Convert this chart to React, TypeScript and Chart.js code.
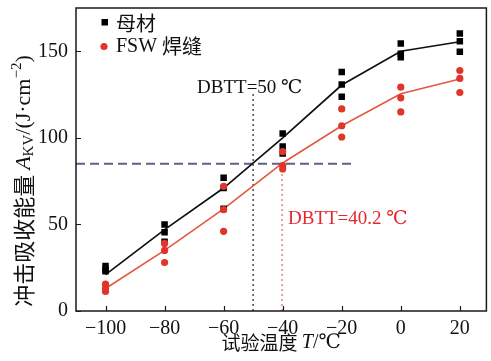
import React, { useEffect, useRef } from 'react';
import { Chart, registerables } from 'chart.js';

Chart.register(...registerables);

// ---- data ----
const temps = [-100, -80, -60, -40, -20, 0, 20];
const seriesNames = ['母材', 'FSW 焊缝'];
const baseFit = [21, 47, 71, 100, 130.5, 150, 155.5];
const fswFit = [13, 35, 59, 85.5, 107, 125.5, 134];
const baseSamples = [
  [26, 24, 23],
  [50, 45.5, 40],
  [77, 71, 59],
  [102.5, 95, 91],
  [138, 130.8, 123.7],
  [154.5, 148.6, 146.6],
  [160.3, 155.8, 149.7],
];
const fswSamples = [
  [15.5, 13, 11.3],
  [39, 35, 28],
  [72, 58.5, 46],
  [92, 84, 82],
  [116.7, 107, 100.5],
  [129.3, 123.1, 115],
  [138.9, 134.3, 126.2],
];
const xTicks = [-100, -80, -60, -40, -20, 0, 20];
const yTicks = [0, 50, 100, 150];
const xRange = [-110, 29];
const yRange = [0, 175];
const criterionEnergy = 85;
const criterionEnd = -16;
const dbttBase = -50;
const dbttBaseTop = 126;
const dbttFsw = -40.2;
const dbttBaseLabel = 'DBTT=50 ℃';
const dbttFswLabel = 'DBTT=40.2 ℃';
const dbttBaseLabelPos = [-69, 126];
const dbttFswLabelPos = [-38.2, 50.3];

const SERIF = "'Liberation Serif', 'DejaVu Serif', 'Noto Sans CJK SC', serif";
const CJK = "'Noto Sans CJK SC', 'Liberation Serif', sans-serif";

type Run = { t: string; f: string; dy?: number };

function runsWidth(ctx: CanvasRenderingContext2D, runs: Run[]) {
  let w = 0;
  for (const r of runs) {
    ctx.font = r.f;
    w += ctx.measureText(r.t).width;
  }
  return w;
}
function drawRuns(ctx: CanvasRenderingContext2D, runs: Run[], x: number, y: number) {
  let cx = x;
  for (const r of runs) {
    ctx.font = r.f;
    ctx.fillText(r.t, cx, y + (r.dy || 0));
    cx += ctx.measureText(r.t).width;
  }
}

const decor = {
  id: 'decor',
  afterDraw(chart: any) {
    const { ctx, chartArea: a, scales } = chart;
    const xs = scales.x;
    const ys = scales.y;
    ctx.save();
    // frame
    ctx.strokeStyle = '#1a1a1a';
    ctx.lineWidth = 1.5;
    ctx.strokeRect(a.left, a.top, a.right - a.left, a.bottom - a.top);
    // inward ticks
    ctx.lineWidth = 1.2;
    ctx.beginPath();
    xTicks.forEach((v) => {
      const px = Math.round(xs.getPixelForValue(v)) + 0.5;
      ctx.moveTo(px, a.bottom);
      ctx.lineTo(px, a.bottom - 5);
    });
    yTicks.forEach((v) => {
      const py = Math.round(ys.getPixelForValue(v)) + 0.5;
      ctx.moveTo(a.left, py);
      ctx.lineTo(a.left + 5, py);
    });
    ctx.stroke();

    // legend
    ctx.textBaseline = 'middle';
    ctx.textAlign = 'left';
    ctx.fillStyle = '#000';
    ctx.fillRect(101.5, 19, 6.5, 6.5);
    ctx.fillStyle = '#e0352b';
    ctx.beginPath();
    ctx.arc(104, 46.5, 3.6, 0, Math.PI * 2);
    ctx.fill();
    ctx.fillStyle = '#111';
    drawRuns(ctx, [{ t: seriesNames[0], f: `20px ${CJK}` }], 116, 23);
    drawRuns(ctx, [
      { t: 'FSW ', f: `20px ${SERIF}` },
      { t: '焊缝', f: `20px ${CJK}` },
    ], 116, 46.5);

    // DBTT labels
    ctx.textBaseline = 'alphabetic';
    ctx.fillStyle = '#111';
    ctx.font = `19px ${SERIF}`;
    ctx.fillText(dbttBaseLabel, xs.getPixelForValue(dbttBaseLabelPos[0]), ys.getPixelForValue(dbttBaseLabelPos[1]));
    ctx.fillStyle = '#e8262e';
    ctx.fillText(dbttFswLabel, xs.getPixelForValue(dbttFswLabelPos[0]), ys.getPixelForValue(dbttFswLabelPos[1]));

    // x title
    ctx.fillStyle = '#111';
    ctx.textBaseline = 'middle';
    const xRuns: Run[] = [
      { t: '试验温度 ', f: `19px ${CJK}` },
      { t: 'T', f: `italic 20px ${SERIF}` },
      { t: '/℃', f: `20px ${SERIF}` },
    ];
    const xw = runsWidth(ctx, xRuns);
    drawRuns(ctx, xRuns, (a.left + a.right) / 2 - xw / 2, 342.5);

    // y title
    const yRuns: Run[] = [
      { t: '冲击吸收能量 ', f: `22px ${CJK}` },
      { t: 'A', f: `italic 22px ${SERIF}` },
      { t: 'KV', f: `15px ${SERIF}`, dy: 5 },
      { t: '/(J·cm', f: `22px ${SERIF}` },
      { t: '−2', f: `15px ${SERIF}`, dy: -7 },
      { t: ')', f: `22px ${SERIF}` },
    ];
    const yw = runsWidth(ctx, yRuns);
    ctx.translate(24, 181);
    ctx.rotate(-Math.PI / 2);
    drawRuns(ctx, yRuns, -yw / 2, 0);
    ctx.restore();
  },
};

export default function App() {
  const ref = useRef<HTMLCanvasElement | null>(null);
  useEffect(() => {
    document.body.style.margin = '0';
    const canvas = ref.current;
    if (!canvas) return;
    const pts = (vals: number[]) => temps.map((t, i) => ({ x: t, y: vals[i] }));
    const samplePts = (s: number[][]) => {
      const out: { x: number; y: number }[] = [];
      s.forEach((arr, i) => arr.forEach((v) => out.push({ x: temps[i], y: v })));
      return out;
    };
    const chart = new Chart(canvas, {
      type: 'scatter',
      data: {
        datasets: [
          {
            label: seriesNames[1],
            data: samplePts(fswSamples),
            pointStyle: 'circle',
            pointRadius: 3.6,
            backgroundColor: '#e0352b',
            borderColor: '#e0352b',
            borderWidth: 0,
            order: 0,
          },
          {
            label: seriesNames[0],
            data: samplePts(baseSamples),
            pointStyle: 'rect',
            pointRadius: 4.6,
            backgroundColor: '#000',
            borderColor: '#000',
            borderWidth: 0,
            order: 1,
          },
          {
            label: 'base fit',
            data: pts(baseFit),
            showLine: true,
            pointRadius: 0,
            borderColor: '#111',
            borderWidth: 1.7,
            order: 2,
          },
          {
            label: 'fsw fit',
            data: pts(fswFit),
            showLine: true,
            pointRadius: 0,
            borderColor: '#e5573f',
            borderWidth: 1.6,
            order: 3,
          },
          {
            label: 'criterion',
            data: [
              { x: xRange[0], y: criterionEnergy },
              { x: criterionEnd, y: criterionEnergy },
            ],
            showLine: true,
            pointRadius: 0,
            borderColor: '#5b5f93',
            borderWidth: 2,
            borderDash: [9, 5],
            order: 4,
          },
          {
            label: 'dbtt base',
            data: [
              { x: dbttBase, y: 0 },
              { x: dbttBase, y: dbttBaseTop },
            ],
            showLine: true,
            pointRadius: 0,
            borderColor: '#555',
            borderWidth: 1.6,
            borderDash: [2, 3],
            order: 5,
          },
          {
            label: 'dbtt fsw',
            data: [
              { x: dbttFsw, y: 0 },
              { x: dbttFsw, y: criterionEnergy },
            ],
            showLine: true,
            pointRadius: 0,
            borderColor: '#e0917a',
            borderWidth: 1.6,
            borderDash: [2, 3],
            order: 6,
          },
        ],
      },
      options: {
        animation: false,
        responsive: false,
        layout: { padding: { top: 8, right: 2, left: 0, bottom: 0 } },
        plugins: { legend: { display: false }, tooltip: { enabled: false } },
        scales: {
          x: {
            type: 'linear',
            min: xRange[0],
            max: xRange[1],
            grid: { display: false, drawTicks: false },
            border: { display: false },
            afterBuildTicks: (s: any) => {
              s.ticks = xTicks.map((v) => ({ value: v }));
            },
            afterFit: (s: any) => {
              s.height = 50;
              s.paddingLeft = 0;
              s.paddingRight = 0;
              s.paddingTop = 0;
              s.paddingBottom = 0;
            },
            ticks: {
              padding: 6,
              color: '#111',
              font: { family: SERIF, size: 20 },
              callback: (v: any) => (v < 0 ? '−' + Math.abs(v) : String(v)),
            },
          },
          y: {
            type: 'linear',
            min: yRange[0],
            max: yRange[1],
            grid: { display: false, drawTicks: false },
            border: { display: false },
            afterBuildTicks: (s: any) => {
              s.ticks = yTicks.map((v) => ({ value: v }));
            },
            afterFit: (s: any) => {
              s.width = 76;
              s.paddingLeft = 0;
              s.paddingRight = 0;
              s.paddingTop = 0;
              s.paddingBottom = 0;
            },
            ticks: {
              padding: 8,
              color: '#111',
              font: { family: SERIF, size: 20 },
            },
          },
        },
      },
      plugins: [decor],
    });
    return () => chart.destroy();
  }, []);
  return (
    <div style={{ width: 491, height: 361 }}>
      <canvas ref={ref} width={491} height={361} />
    </div>
  );
}
